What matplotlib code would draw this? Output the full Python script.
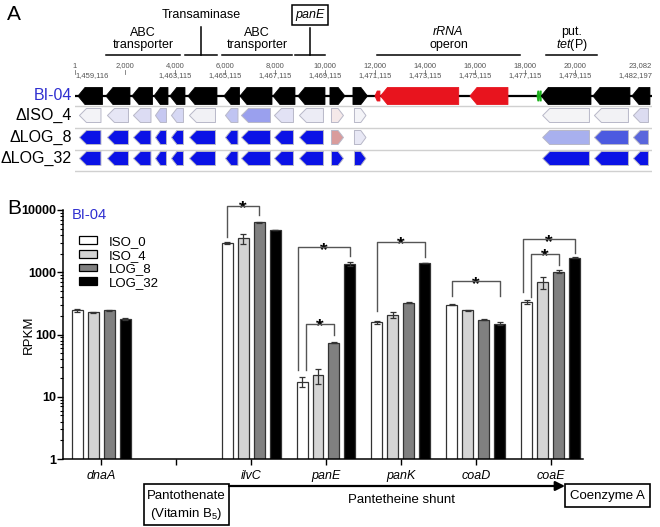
import matplotlib.pyplot as plt
from matplotlib.patches import Polygon, Rectangle, Patch
from matplotlib.ticker import LogLocator, NullFormatter
import numpy as np

plt.rcParams['font.family'] = ['Liberation Sans', 'DejaVu Sans']
plt.rcParams['mathtext.fontset'] = 'custom'
plt.rcParams['mathtext.rm'] = 'Liberation Sans'
plt.rcParams['mathtext.it'] = 'Liberation Sans:italic'

W, H = 660, 527

# ---------------- panel A data (genome positions) ----------------
tick_pos = [1, 2000, 4000, 6000, 8000, 10000, 12000, 14000, 16000, 18000, 20000, 23082]
tick_top = ['1', '2,000', '4,000', '6,000', '8,000', '10,000', '12,000', '14,000',
            '16,000', '18,000', '20,000', '23,082']
tick_bottom = ['1,459,116', '', '1,463,115', '1,465,115', '1,467,115', '1,469,115', '1,471,115',
               '1,473,115', '1,475,115', '1,477,115', '1,479,115', '1,482,197']

gene_start = [120, 1240, 2280, 3160, 3800, 4520, 5960, 6600, 7920, 8920, 10200, 11120,
              12000, 12220, 15800, 18480, 18570, 18650, 20720, 22280]
gene_end = [1100, 2200, 3100, 3720, 4400, 5680, 6580, 7880, 8800, 10000, 10800, 11700,
            12200, 15350, 17320, 18560, 18650, 20640, 22200, 23000]
gene_strand = [-1, -1, -1, -1, -1, -1, -1, -1, -1, -1, 1, 1,
               -1, -1, -1, -1, -1, -1, -1, -1]
ref_color = ['k'] * 12 + ['#e8141e', '#e8141e', '#e8141e', '#19b219', '#19b219', 'k', 'k', 'k']

row_names = ['\u0394ISO_4', '\u0394LOG_8', '\u0394LOG_32']
B = '#0b12e6'
iso4_color = ['#f3f3f7', '#e6e6f5', '#dcdcf3', '#c6c8f1', '#d6d8f4', '#f1f1f5', '#c0c4f2',
              '#9aa0ee', '#e2e2f5', '#ececf5', '#f5e9e9', '#f4f4f8',
              None, None, None, None, None, '#f4f4f6', '#f2f2f5', '#dcdcf1']
log8_color = [B] * 10 + ['#d99c9c', '#e8e8f5', None, None, None, None, None,
                         '#a8b0ee', '#4c5ae0', '#5a66dc']
log32_color = [B] * 12 + [None, None, None, None, None, B, B, B]

features = [('ABC\ntransporter', 1240, 4200), ('Transaminase', 4400, 5680),
            ('ABC\ntransporter', 5880, 8680), ('panE', 8800, 10000),
            ('rRNA\noperon', 12080, 17800), ('put.\ntet(P)', 18840, 20880)]

# ---------------- panel B data ----------------
categories = ['dnaA', '', 'ilvC', 'panE', 'panK', 'coaD', 'coaE']
gene_idx = [0, 2, 3, 4, 5, 6]
conditions = ['ISO_0', 'ISO_4', 'LOG_8', 'LOG_32']
iso0 = [245, 2960, 17.4, 156, 303, 334]
iso4 = [228, 3520, 22.3, 207, 243, 690]
log8 = [244, 6350, 74, 322, 174, 1020]
log32 = [178, 4790, 1360, 1390, 150, 1720]
iso0_sd = [12, 100, 3, 8, 2, 30]
iso4_sd = [4, 650, 6, 25, 3, 150]
log8_sd = [4, 150, 2, 5, 3, 60]
log32_sd = [4, 60, 120, 0, 10, 30]
bar_colors = ['white', '#d4d4d4', '#808080', 'black']

# significance brackets: gene position, bar a, bar b, top, left leg end, right leg end
brackets = [(2, 0, 2, 11650, 3690, 8340),
            (3, 0, 3, 2520, 27, 1830),
            (3, 0, 2, 150, 27, 97),
            (4, 0, 3, 3100, 237, 1760),
            (5, 0, 3, 719, 413, 413),
            (6, 0, 3, 3390, 484, 2020),
            (6, 0, 2, 1970, 403, 1310)]


def fx(x):
    return x / W


def fy(y):
    return 1 - y / H


fig = plt.figure(figsize=(6.6, 5.27), dpi=100)

# ---------------- panel A ----------------
axA = fig.add_axes([fx(75), fy(180), 577 / W, 180 / H])
axA.set_xlim(1, 23082)
axA.set_ylim(180, 0)
axA.axis('off')


def gene_shape(s, e, strand, yc, h, head=280):
    hl = min(head, (e - s) * 0.45)
    if strand < 0:
        pts = [(s, yc), (s + hl, yc - h / 2), (e, yc - h / 2), (e, yc + h / 2), (s + hl, yc + h / 2)]
    else:
        pts = [(e, yc), (e - hl, yc - h / 2), (s, yc - h / 2), (s, yc + h / 2), (e - hl, yc + h / 2)]
    return pts


for p, t1, t2 in zip(tick_pos, tick_top, tick_bottom):
    ha = 'center'
    if p == tick_pos[0]:
        ha = 'left'
    elif p == tick_pos[-1]:
        ha = 'right'
    axA.text(p, 66, t1, fontsize=5.5, color='#555555', ha='center' if ha == 'left' else ha, va='center')
    axA.text(p, 76, t2, fontsize=5.5, color='#555555', ha=ha, va='center')
    axA.plot([p, p], [70, 74], color='#777777', lw=0.6)

# reference row
axA.plot([1, 23082], [96, 96], color='k', lw=1.6, zorder=1)
for s, e, st, c in zip(gene_start, gene_end, gene_strand, ref_color):
    h = 17 if e - s > 300 else 10
    axA.add_patch(Polygon(gene_shape(s, e, st, 96, h), closed=True, facecolor=c,
                          edgecolor=c, lw=0.6, joinstyle='round', zorder=2))

row_y = [115.5, 137.5, 158.5]
for yc, cols in zip(row_y, [iso4_color, log8_color, log32_color]):
    for s, e, st, c in zip(gene_start, gene_end, gene_strand, cols):
        if c is None:
            continue
        axA.add_patch(Polygon(gene_shape(s + 60, e - 60, st, yc, 14), closed=True, facecolor=c,
                              edgecolor='#b8b8c8', lw=0.7, joinstyle='round', zorder=2))

for ys in [106, 127.5, 149.5, 171]:
    axA.plot([1, 23082], [ys, ys], color='#d0d0d0', lw=1.0, zorder=1)

axA.text(-130, 96, 'BI-04', color='#2f2fd0', fontsize=11.5, ha='right', va='center', clip_on=False)
for yc, name in zip(row_y, row_names):
    axA.text(-130, yc, name, fontsize=11.5, ha='right', va='center', clip_on=False)

for label, s, e in features:
    xc = (s + e) / 2
    axA.plot([s, e], [55, 55], color='k', lw=1.1)
    if label == 'Transaminase':
        axA.plot([xc, xc], [27, 55], color='k', lw=1.1)
        axA.text(xc, 15, label, fontsize=9, ha='center', va='center')
    elif label == 'panE':
        axA.plot([xc, xc], [28, 55], color='k', lw=1.1)
        axA.text(xc, 15, label, fontsize=9, style='italic', ha='center', va='center',
                 bbox=dict(boxstyle='square,pad=0.3', fc='white', ec='k', lw=1.1))
    elif label.startswith('rRNA'):
        axA.text(xc, 32, 'rRNA', fontsize=9, style='italic', ha='center', va='center')
        axA.text(xc, 45, 'operon', fontsize=9, ha='center', va='center')
    elif label.startswith('put.'):
        axA.text(xc, 32, 'put.', fontsize=9, ha='center', va='center')
        axA.text(xc, 45, r'$\it{tet}$(P)', fontsize=9, ha='center', va='center')
    else:
        a, b = label.split('\n')
        axA.text(xc, 33, a, fontsize=9, ha='center', va='center')
        axA.text(xc, 45, b, fontsize=9, ha='center', va='center')

# ---------------- panel B ----------------
axB = fig.add_axes([fx(63), fy(459), (583 - 63) / W, (459 - 210) / H])
axB.set_yscale('log')
axB.set_ylim(1, 10000)
axB.set_xlim(-0.507, 6.427)

offsets = np.array([-24, -8, 8, 24]) / 75
bw = 11 / 75
xg = np.array(gene_idx, dtype=float)
series = [iso0, iso4, log8, log32]
sds = [iso0_sd, iso4_sd, log8_sd, log32_sd]
for k in range(4):
    axB.bar(xg + offsets[k], series[k], width=bw, color=bar_colors[k], edgecolor='#333333',
            lw=0.9, label=conditions[k], zorder=2)
    axB.errorbar(xg + offsets[k], series[k], yerr=sds[k], fmt='none', ecolor='#333333',
                 elinewidth=0.9, capsize=2.5, capthick=0.9, zorder=3)

for i, (g, a, b, top, lb, rb) in enumerate(brackets):
    same = [br for br in brackets if br[0] == g]
    dx = 0
    if len(same) > 1:
        dx = -0.05 if top == max(br[3] for br in same) else 0.05
    x1 = g + offsets[a] + dx
    x2 = g + offsets[b]
    axB.plot([x1, x1, x2, x2], [lb, top, top, rb], color='#555555', lw=1.0, zorder=4,
             clip_on=False)
    axB.annotate('*', xy=((x1 + x2) / 2, top), xytext=(0, -5.5), textcoords='offset points',
                 ha='center', va='baseline', fontsize=14, fontweight='bold', annotation_clip=False)

axB.set_xticks(range(len(categories)))
axB.set_xticklabels(categories, style='italic', fontsize=9)
axB.set_yticks([1, 10, 100, 1000, 10000])
axB.set_yticklabels(['1', '10', '100', '1000', '10000'], fontweight='bold', fontsize=9)
axB.yaxis.set_minor_locator(LogLocator(base=10, subs=np.arange(2, 10)))
axB.yaxis.set_minor_formatter(NullFormatter())
axB.tick_params(axis='y', which='major', length=4, width=1, pad=1)
axB.tick_params(axis='y', which='minor', length=2, width=0.8)
axB.tick_params(axis='x', length=4, width=1, pad=4)
for sp in ['top', 'right']:
    axB.spines[sp].set_visible(False)
for sp in ['left', 'bottom']:
    axB.spines[sp].set_linewidth(1.1)
axB.set_ylabel('RPKM', fontsize=9.5)
axB.yaxis.set_label_coords(-0.055, 0.5)

handles = [Patch(facecolor=c, edgecolor='k', lw=0.9) for c in bar_colors]
fig.legend(handles, conditions, loc='upper left', bbox_to_anchor=(fx(79), fy(236)),
           frameon=False, fontsize=9.5, handlelength=1.35, handleheight=0.55,
           handletextpad=0.9, labelspacing=0.12, borderpad=0, borderaxespad=0)

fig.text(fx(72), fy(215), 'BI-04', color='#2f2fd0', fontsize=10.5, ha='left', va='center')
fig.text(fx(7), fy(14), 'A', fontsize=15, ha='left', va='center')
fig.text(fx(7), fy(208), 'B', fontsize=15, ha='left', va='center')

# pathway annotation below panel B
ov = fig.add_axes([0, 0, 1, 1])
ov.set_xlim(0, W)
ov.set_ylim(H, 0)
ov.axis('off')
ov.patch.set_visible(False)
ov.add_patch(Rectangle((144, 484), 85, 41, fc='white', ec='k', lw=1.2))
ov.text(186.5, 496, 'Pantothenate', fontsize=9.5, ha='center', va='center')
ov.text(186.5, 514, r'(Vitamin B$_5$)', fontsize=9.5, ha='center', va='center')
ov.add_patch(Rectangle((565, 484), 85, 23, fc='white', ec='k', lw=1.2))
ov.text(607.5, 496, 'Coenzyme A', fontsize=9.5, ha='center', va='center')
ov.annotate('', xy=(565, 486), xytext=(229, 486),
            arrowprops=dict(arrowstyle='-|>', lw=1.6, color='k', mutation_scale=14,
                            shrinkA=0, shrinkB=0))
ov.text(401, 500, 'Pantetheine shunt', fontsize=9.5, ha='center', va='center')

fig.savefig('out.png', dpi=100)
